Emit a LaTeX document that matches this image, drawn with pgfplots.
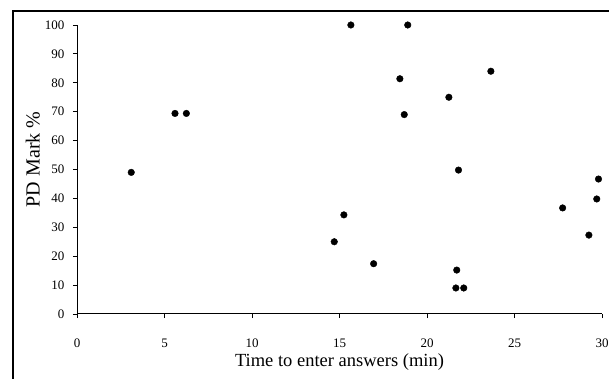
\documentclass[border=0pt]{standalone}
\usepackage{fontspec}
\setmainfont{Liberation Serif}
\usepackage{pgfplots}
\pgfplotsset{compat=1.18}
\begin{document}
\begin{tikzpicture}
\begin{axis}[
  at={(0pt,0pt)}, anchor=south west,
  scale only axis, width=525pt, height=289pt,
  xmin=0, xmax=30, ymin=0, ymax=100,
  axis lines=left, axis line style={-, line width=1pt, black},
  xtick={0,5,...,30}, ytick={0,10,...,100},
  tick align=outside, major tick length=4pt,
  tick style={black, line width=0.8pt},
  /pgf/number format/assume math mode=true,
  ticklabel style={font=\fontsize{13}{15}\selectfont},
  yticklabel style={xshift=-5pt},
  xticklabel style={yshift=-17pt},
  xlabel={Time to enter answers (min)},
  ylabel={PD Mark \%},
  xlabel style={font=\fontsize{18.5}{21}\selectfont, at={(axis description cs:0.5,-0.183)}, anchor=base},
  ylabel style={font=\fontsize{20}{23}\selectfont, at={(axis description cs:-0.084,0.535)}, anchor=center},
  clip=false,
]
\addplot[only marks, mark=*, mark size=3.3pt, black] coordinates {
 (3.1,49) (5.6,69.4) (6.25,69.4) (14.7,25) (15.25,34.3) (15.65,100)
 (16.95,17.4) (18.45,81.4) (18.7,69) (18.9,100) (21.25,75) (21.7,15.2)
 (21.65,9) (22.1,9) (21.8,49.8) (23.65,84) (27.75,36.7) (29.25,27.3)
 (29.7,39.8) (29.8,46.7)
};
\end{axis}
\draw[line width=1.2pt, black] (-64pt,-70pt) -- (-64pt,303pt) -- (540pt,303pt);
\pgfresetboundingbox
\path[use as bounding box] (-77pt,-65pt) rectangle (532pt,314pt);
\end{tikzpicture}
\end{document}
